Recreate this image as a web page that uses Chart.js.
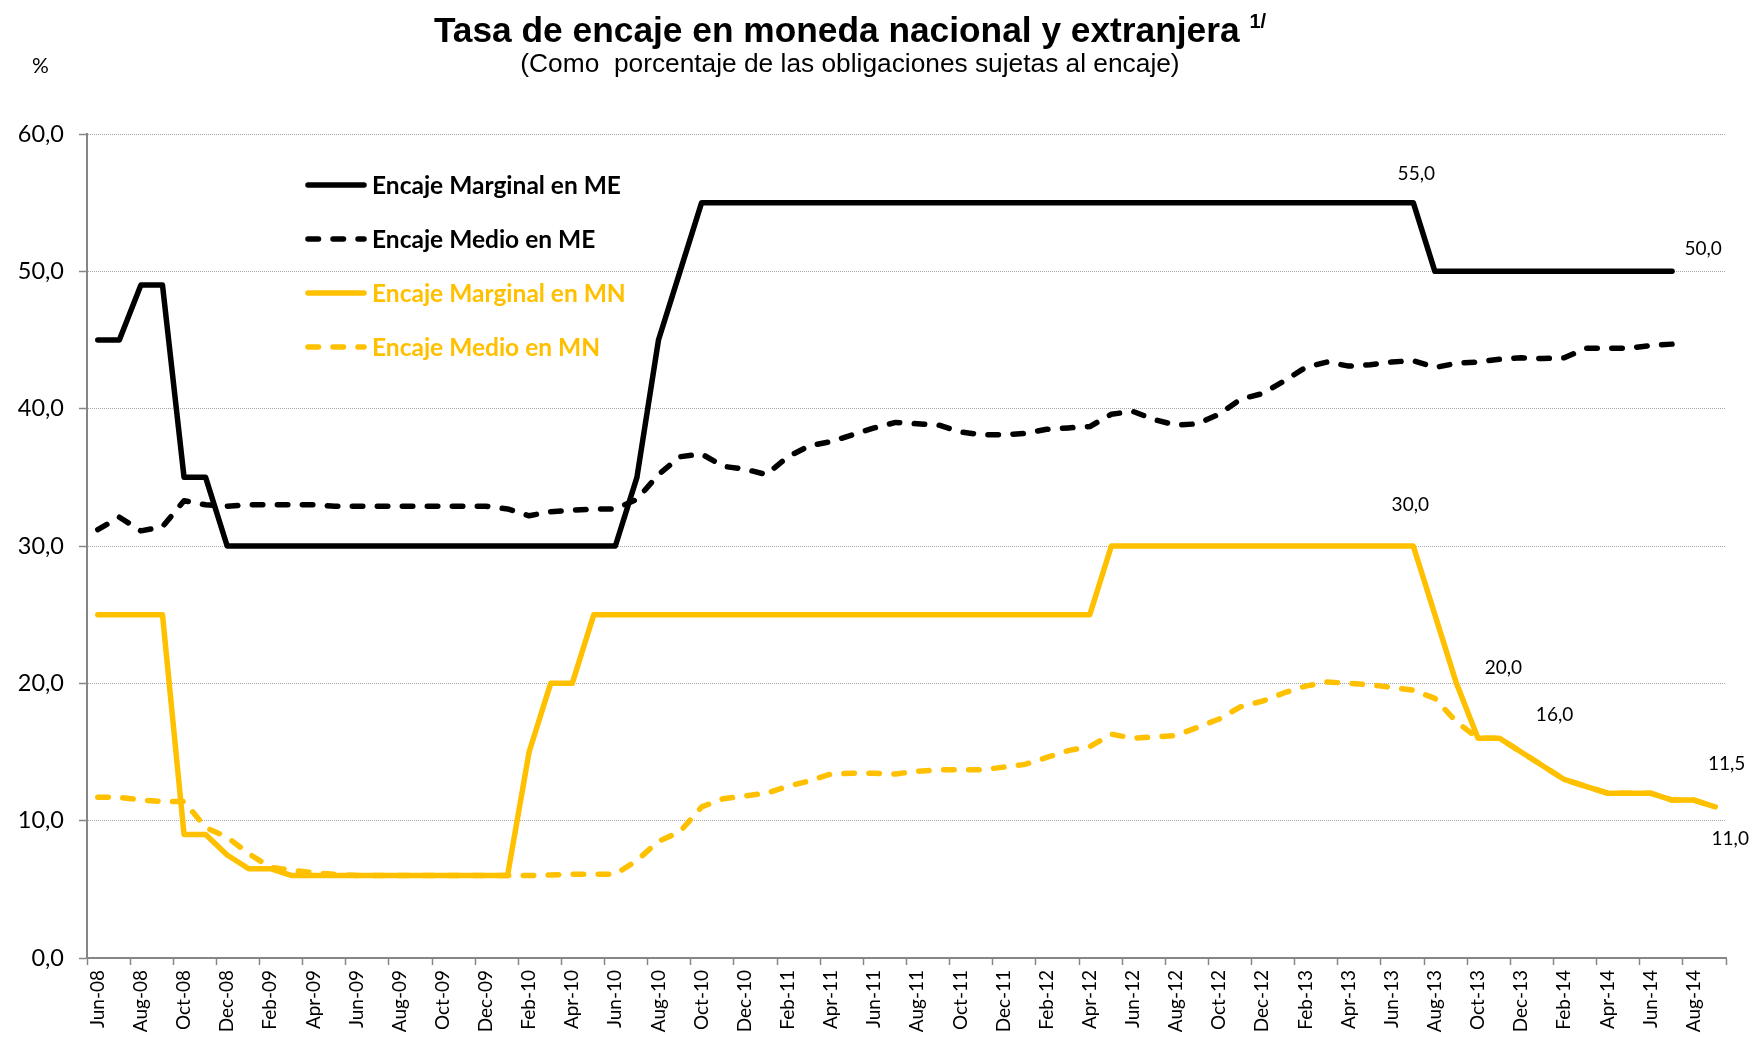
<!DOCTYPE html>
<html>
<head>
<meta charset="utf-8">
<script src="https://cdn.jsdelivr.net/npm/chart.js@4.4.1/dist/chart.umd.min.js"></script>
<style>
  body { margin: 0; background: #fff; }
  #wrap { position: relative; width: 1754px; height: 1053px; }
  #title { position: absolute; left: 0; top: 12px; width: 1700px; text-align: center;
           font: bold 35.3px 'Liberation Sans', Arial, sans-serif; line-height: 36px; color: #000; }
  #title span { font-size: 20px; position: relative; top: -14px; }
  #subtitle { position: absolute; left: 0; top: 50px; width: 1700px; text-align: center;
              font: 26.3px 'Liberation Sans', Arial, sans-serif; line-height: 26px; color: #000; white-space: pre; }
  #unit { position: absolute; left: 32px; top: 52px; font: 21px Lato, sans-serif; color: #000; }
</style>
</head>
<body>
<div id="wrap">
  <canvas id="canvas" width="1754" height="1053"></canvas>
  <div id="title">Tasa de encaje en moneda nacional y extranjera <span>1/</span></div>
  <div id="subtitle">(Como  porcentaje de las obligaciones sujetas al encaje)</div>
  <div id="unit">%</div>
</div>
<script>
// monthly categories, Jun-08 .. Sep-14
var months = ['Jun-08','Jul-08','Aug-08','Sep-08','Oct-08','Nov-08','Dec-08',
  'Jan-09','Feb-09','Mar-09','Apr-09','May-09','Jun-09','Jul-09','Aug-09','Sep-09','Oct-09','Nov-09','Dec-09',
  'Jan-10','Feb-10','Mar-10','Apr-10','May-10','Jun-10','Jul-10','Aug-10','Sep-10','Oct-10','Nov-10','Dec-10',
  'Jan-11','Feb-11','Mar-11','Apr-11','May-11','Jun-11','Jul-11','Aug-11','Sep-11','Oct-11','Nov-11','Dec-11',
  'Jan-12','Feb-12','Mar-12','Apr-12','May-12','Jun-12','Jul-12','Aug-12','Sep-12','Oct-12','Nov-12','Dec-12',
  'Jan-13','Feb-13','Mar-13','Apr-13','May-13','Jun-13','Jul-13','Aug-13','Sep-13','Oct-13','Nov-13','Dec-13',
  'Jan-14','Feb-14','Mar-14','Apr-14','May-14','Jun-14','Jul-14','Aug-14','Sep-14'];

// Encaje Marginal en ME (to Jul-14)
var marginalME = [45,45,49,49,35,35,
  30,30,30,30,30,30,30,30,30,30,30,30,30,30,30,30,30,30,30,
  35,45,50,
  55,55,55,55,55,55,55,55,55,55,55,55,55,55,55,55,55,55,55,55,55,55,55,55,55,55,55,55,55,55,55,55,55,55,
  50,50,50,50,50,50,50,50,50,50,50,50];

// Encaje Medio en ME (to Jul-14)
var medioME = [31.2,32.1,31.1,31.4,33.3,33.0,32.9,33.0,33.0,33.0,33.0,32.9,32.9,32.9,32.9,32.9,32.9,32.9,32.9,
  32.7,32.2,32.5,32.6,32.7,32.7,33.4,35.2,36.5,36.7,35.8,35.6,
  35.2,36.5,37.3,37.6,38.1,38.6,39.0,38.9,38.8,38.3,38.1,38.1,
  38.2,38.5,38.6,38.7,39.6,39.8,39.2,38.8,38.9,39.6,40.7,41.1,
  42.0,43.0,43.4,43.1,43.2,43.4,43.5,43.0,43.3,43.4,43.6,43.7,
  43.65,43.7,44.4,44.4,44.4,44.6,44.7];

// Encaje Marginal en MN
var marginalMN = [25,25,25,25,9,9,7.5,
  6.5,6.5,6,6,6,6,6,6,6,6,6,6,
  6,15,20,20,25,25,25,25,25,25,25,25,
  25,25,25,25,25,25,25,25,25,25,25,25,
  25,25,25,25,30,30,30,30,30,30,30,30,
  30,30,30,30,30,30,30,25,20,16,16,15,
  14,13,12.5,12,12,12,11.5,11.5,11];

// Encaje Medio en MN
var medioMN = [11.7,11.7,11.5,11.4,11.4,9.5,8.8,
  7.6,6.6,6.4,6.2,6.1,6.0,6.0,6.0,6.0,6.0,6.0,6.0,
  6.0,6.0,6.05,6.1,6.1,6.1,7.1,8.5,9.2,11.0,11.6,11.8,
  12.0,12.5,12.9,13.4,13.45,13.45,13.4,13.6,13.7,13.7,13.7,13.9,
  14.1,14.6,15.1,15.4,16.3,16.0,16.1,16.2,16.8,17.4,18.3,18.7,
  19.3,19.8,20.1,20.0,19.9,19.7,19.5,18.9,17.2,16.0,16,15,
  14,13,12.5,12,12,12,11.5,11.5,11];

var yMin = 0, yMax = 60, yStep = 10;

var BLACK = '#000000';
var GOLD = '#FFC000';
var AXIS = '#868686';
var DASH = [10.5, 14.5];

function fmt(v) { return v.toFixed(1).replace('.', ','); }

// which points get a value label, and where the label sits relative to the point
var labelSpots = [
  {ds: 0, i: 61, dx: 3, dy: -29},
  {ds: 0, i: 73, dx: 31, dy: -22},
  {ds: 2, i: 61, dx: -3, dy: -41},
  {ds: 2, i: 63, dx: 47, dy: -15},
  {ds: 2, i: 65, dx: 55, dy: -23},
  {ds: 2, i: 74, dx: 33, dy: -36},
  {ds: 2, i: 75, dx: 15, dy: 32}
];

var valueLabels = {
  id: 'valueLabels',
  afterDatasetsDraw: function(chart) {
    var ctx = chart.ctx;
    ctx.save();
    ctx.font = '19px Lato';
    ctx.fillStyle = '#000';
    ctx.textAlign = 'center';
    ctx.textBaseline = 'middle';
    labelSpots.forEach(function(s) {
      var pt = chart.getDatasetMeta(s.ds).data[s.i];
      var v = chart.data.datasets[s.ds].data[s.i];
      ctx.fillText(fmt(v), pt.x + s.dx, pt.y + s.dy);
    });
    ctx.restore();
  }
};

var legendBox = {
  id: 'legendBox',
  afterDraw: function(chart) {
    var ctx = chart.ctx, area = chart.chartArea;
    chart.data.datasets.forEach(function(ds, k) {
      var y = area.top + 51 + k * 54;
      var x0 = area.left + 221;
      ctx.save();
      ctx.strokeStyle = ds.borderColor;
      ctx.lineWidth = 5.5;
      ctx.lineCap = 'round';
      ctx.setLineDash(ds.borderDash || []);
      ctx.beginPath();
      ctx.moveTo(x0, y);
      ctx.lineTo(x0 + 56, y);
      ctx.stroke();
      ctx.setLineDash([]);
      ctx.font = 'bold 24.5px Lato';
      ctx.fillStyle = ds.borderColor;
      ctx.textBaseline = 'middle';
      ctx.fillText(ds.label, x0 + 64, y + 1);
      ctx.restore();
    });
  }
};

Chart.defaults.font.family = 'Lato';
Chart.defaults.color = '#000';

var lineStyle = {
  borderWidth: 5.5,
  pointRadius: 0,
  pointHoverRadius: 0,
  tension: 0,
  fill: false,
  borderCapStyle: 'round',
  borderJoinStyle: 'round'
};

var ctx = document.getElementById('canvas').getContext('2d');
var myChart = new Chart(ctx, {
  type: 'line',
  data: {
    labels: months,
    datasets: [
      Object.assign({label: 'Encaje Marginal en ME', data: marginalME, borderColor: BLACK, backgroundColor: BLACK}, lineStyle),
      Object.assign({label: 'Encaje Medio en ME', data: medioME, borderColor: BLACK, backgroundColor: BLACK, borderDash: DASH}, lineStyle),
      Object.assign({label: 'Encaje Marginal en MN', data: marginalMN, borderColor: GOLD, backgroundColor: GOLD}, lineStyle),
      Object.assign({label: 'Encaje Medio en MN', data: medioMN, borderColor: GOLD, backgroundColor: GOLD, borderDash: DASH}, lineStyle)
    ]
  },
  options: {
    responsive: false,
    devicePixelRatio: 1,
    animation: false,
    layout: { padding: { top: 134, right: 28, bottom: 0, left: 0 } },
    plugins: {
      legend: { display: false },
      tooltip: { enabled: false },
      title: { display: false }
    },
    scales: {
      x: {
        type: 'category',
        offset: true,
        afterFit: function(scale) { scale.height = 95; },
        grid: {
          offset: true,
          drawOnChartArea: false,
          drawTicks: true,
          tickLength: 7,
          tickWidth: 1.5,
          tickColor: function(c) {
            return (c.index === undefined || c.index % 2 === 0) ? AXIS : 'rgba(0,0,0,0)';
          }
        },
        border: { display: true, color: AXIS, width: 2 },
        ticks: {
          autoSkip: false,
          minRotation: 90,
          maxRotation: 90,
          padding: 5,
          font: { size: 19 },
          color: '#000',
          callback: function(value, index) {
            return index % 2 === 0 ? this.getLabelForValue(value) : '';
          }
        }
      },
      y: {
        min: yMin,
        max: yMax,
        afterFit: function(scale) { scale.width = 87; },
        grid: {
          color: '#a6a6a6',
          lineWidth: 1,
          drawTicks: true,
          tickLength: 8,
          tickColor: AXIS,
          tickWidth: 1.5
        },
        border: { display: true, color: AXIS, width: 2, dash: [1, 1] },
        ticks: {
          stepSize: yStep,
          padding: 15,
          font: { size: 23.5 },
          color: '#000',
          callback: function(v) { return fmt(v); }
        }
      }
    }
  },
  plugins: [valueLabels, legendBox]
});
</script>
</body>
</html>
